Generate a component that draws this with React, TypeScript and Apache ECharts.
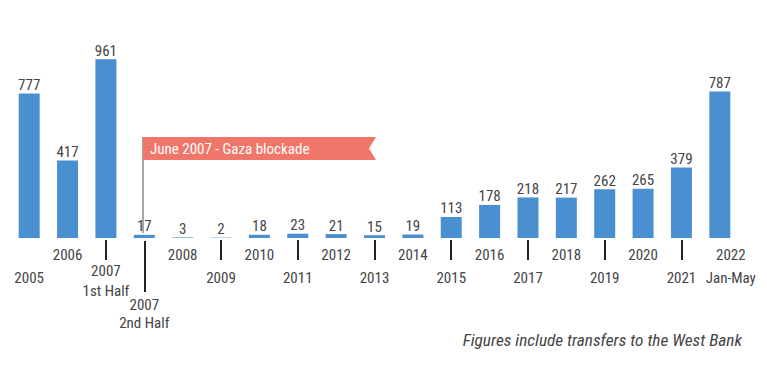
import React, { useEffect, useRef } from "react";
import * as echarts from "echarts";

const categories = [
  "2005", "2006", "2007\n1st Half", "2007\n2nd Half", "2008", "2009", "2010", "2011",
  "2012", "2013", "2014", "2015", "2016", "2017", "2018", "2019", "2020", "2021", "2022\nJan-May",
];
const values = [777, 417, 961, 17, 3, 2, 18, 23, 21, 15, 19, 113, 178, 218, 217, 262, 265, 379, 787];

const highRow = [1, 4, 6, 8, 10, 12, 14, 16];
const lowRow = [0, 5, 7, 9, 11, 13, 15, 17];
const shortTicks = [2, 5, 7, 9, 11, 13, 15, 17];
const annotationText = "June 2007 - Gaza blockade";
const footnote = "Figures include transfers to the West Bank";

const FONT = "'Roboto Condensed', 'Liberation Sans Narrow', 'DejaVu Sans Condensed', Roboto, sans-serif";
const TEXT = "#444444";
const BAR = "#4a8fd0";
const FS = 15;

function labelAxis(show: (i: number) => boolean, margin: number, lineHeight: number, extra: any = {}) {
  const { axisLabel: extraLabel, ...rest } = extra;
  return {
    type: "category",
    data: categories,
    position: "bottom",
    gridIndex: 0,
    axisLine: { show: false },
    axisTick: { show: false },
    splitLine: { show: false },
    axisLabel: {
      interval: 0,
      margin,
      color: TEXT,
      fontFamily: FONT,
      fontSize: FS,
      lineHeight,
      formatter: (v: string, i: number) => (show(i) ? v : ""),
      ...(extraLabel || {}),
    },
    ...rest,
  };
}

export default function App() {
  const ref = useRef<HTMLDivElement>(null);
  useEffect(() => {
    if (!ref.current) return;
    const chart = echarts.init(ref.current, undefined, { renderer: "svg" });
    chart.setOption({
      animation: false,
      grid: { left: 10, right: 28, top: 52, bottom: 130 },
      xAxis: [
        labelAxis((i) => highRow.includes(i), 5, 23),
        labelAxis((i) => lowRow.includes(i), 26, 23, {
          offset: 2,
          axisTick: {
            show: true,
            alignWithLabel: true,
            length: 20,
            interval: (i: number) => shortTicks.includes(i),
            lineStyle: { color: "#222", width: 2 },
          },
        }),
        labelAxis((i) => i === 2, 23, 20),
        labelAxis((i) => i === 3, 55, 18, {
          offset: 3,
          axisTick: {
            show: true,
            alignWithLabel: true,
            length: 51,
            interval: (i: number) => i === 3,
            lineStyle: { color: "#222", width: 2 },
          },
        }),
        labelAxis((i) => i === 18, 5, 23, {
          axisLabel: {
            formatter: (v: string, i: number) => {
              if (i !== 18) return "";
              const parts = v.split("\n");
              return parts.map((p) => `{a|${p}}`).join("\n");
            },
            padding: [0, 0, 0, 22],
            rich: { a: { color: TEXT, fontFamily: FONT, fontSize: FS, lineHeight: 23 } },
          },
        }),
      ],
      yAxis: { type: "value", min: 0, max: 1000, show: false },
      series: [
        {
          type: "bar",
          xAxisIndex: 0,
          data: values,
          barWidth: 21,
          itemStyle: { color: BAR },
          label: {
            show: true,
            position: "top",
            distance: 1,
            color: TEXT,
            fontFamily: FONT,
            fontSize: FS,
          },
        },
      ],
      graphic: [
        {
          type: "line",
          shape: { x1: 143, y1: 137, x2: 143, y2: 233 },
          style: { stroke: "#8a8a8a", lineWidth: 1.5 },
        },
        {
          type: "polygon",
          shape: { points: [[143, 137], [376, 137], [369, 148.5], [376, 160], [143, 160]] },
          style: { fill: "#f0766a" },
        },
        {
          type: "text",
          x: 150,
          y: 149,
          style: {
            text: annotationText,
            fill: "#ffffff",
            font: `15px ${FONT}`,
            verticalAlign: "middle",
            align: "left",
          },
        },
        {
          type: "text",
          x: 742,
          y: 340,
          style: {
            text: footnote,
            fill: TEXT,
            font: `italic 17.3px ${FONT}`,
            verticalAlign: "middle",
            align: "right",
          },
        },
      ],
    });
    return () => chart.dispose();
  }, []);
  return (
    <div
      ref={ref}
      style={{ position: "fixed", left: 0, top: 0, width: 767, height: 368, background: "#fff" }}
    />
  );
}
